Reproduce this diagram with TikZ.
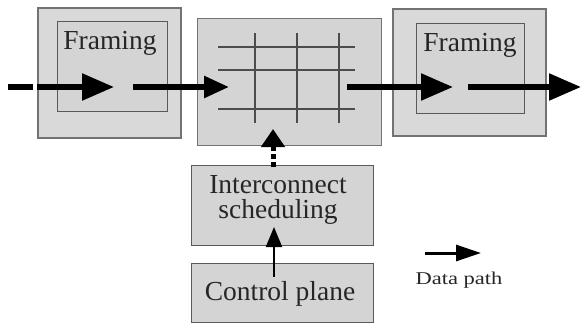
\documentclass[tikz,border=0pt]{standalone}
\usepackage{fontspec}
\setmainfont{Liberation Serif}
\usetikzlibrary{arrows.meta}
\begin{document}
\begin{tikzpicture}[x=1pt,y=-1pt,
  box/.style={draw=black!65,line width=1.2pt,fill=black!17},
  outerbox/.style={draw=black!55,line width=1.8pt,fill=black!15},
  lbl/.style={font=\fontsize{27.5}{30}\selectfont,text=black!85},
  fat/.style={line width=5.5pt,draw=black},
  fathead/.style={-{Triangle[length=32pt,width=26pt]}},
  gridline/.style={draw=black!70,line width=1.6pt}]
\useasboundingbox (0,0) rectangle (581,324);

% framing stage on the input side
\node[outerbox,minimum width=143pt,minimum height=130pt,anchor=north west] (fa) at (37,7) {};
\node[box,minimum width=110pt,minimum height=90pt,anchor=north west] (fai) at (57,21) {};
\node[lbl] (fat) at (110,43) {Framing};

% switching fabric
\node[box,draw=black!55,minimum width=184pt,minimum height=127pt,anchor=north west] (xb) at (197,18) {};
\foreach \yy/\w in {47/2.2,70/1.6,109/1.6}
  \draw[gridline,line width=\w pt] (218,\yy) -- (355,\yy);
\foreach \xx/\w in {255/1.4,297/1.8,339/2.2}
  \draw[gridline,line width=\w pt] (\xx,33) -- (\xx,123);

% framing stage on the output side
\node[outerbox,minimum width=153pt,minimum height=127pt,anchor=north west] (fb) at (392,8) {};
\node[box,minimum width=108pt,minimum height=90pt,anchor=north west] (fbi) at (416,23) {};
\node[lbl] (fbt) at (470,45) {Framing};

% scheduler and control plane
\node[box,minimum width=182pt,minimum height=80pt,anchor=north west] (sc) at (191,165) {};
\node[lbl,align=center] (sct) at (278,200) {Interconnect\\[-5pt]scheduling};
\node[box,minimum width=182pt,minimum height=59pt,anchor=north west] (cp) at (191,263) {};
\node[lbl] (cpt) at (280,294) {Control plane};

% data path coordinates
\coordinate (a0) at (8,87);
\coordinate (a1) at (33,87);
\coordinate (b0) at (37,87);
\coordinate (b1) at (114,87);
\coordinate (c0) at (133,87);
\coordinate (c1) at (229,87);
\coordinate (d0) at (347,87);
\coordinate (d1) at (453,87);
\coordinate (e0) at (468,87);
\coordinate (e1) at (581,87);

\draw[fat] (a0) -- (a1);
\draw[fat,fathead] (b0) -- (b1);
\draw[fat,-{Triangle[length=25pt,width=21pt]}] (c0) -- (c1);
\draw[fat,fathead] (d0) -- (d1);
\draw[fat,fathead] (e0) -- (e1);

% control signalling
\coordinate (s0) at (273,167);
\coordinate (s1) at (273,129);
\draw[line width=5pt,dash pattern=on 5pt off 3pt,-{Triangle[length=18pt,width=23pt]}] (s0) -- (s1);
\coordinate (p0) at (274,277);
\coordinate (p1) at (274,227);
\draw[line width=2pt,-{Triangle[length=20pt,width=16pt]}] (p0) -- (p1);

% legend
\coordinate (l0) at (425,253);
\coordinate (l1) at (481,253);
\draw[line width=3pt,-{Triangle[length=25pt,width=16pt]}] (l0) -- (l1);
\node[font=\fontsize{18}{20}\selectfont,text=black!85] (lg) at (459,280) {\scalebox{1.25}[1]{Data path}};
\end{tikzpicture}
\end{document}
